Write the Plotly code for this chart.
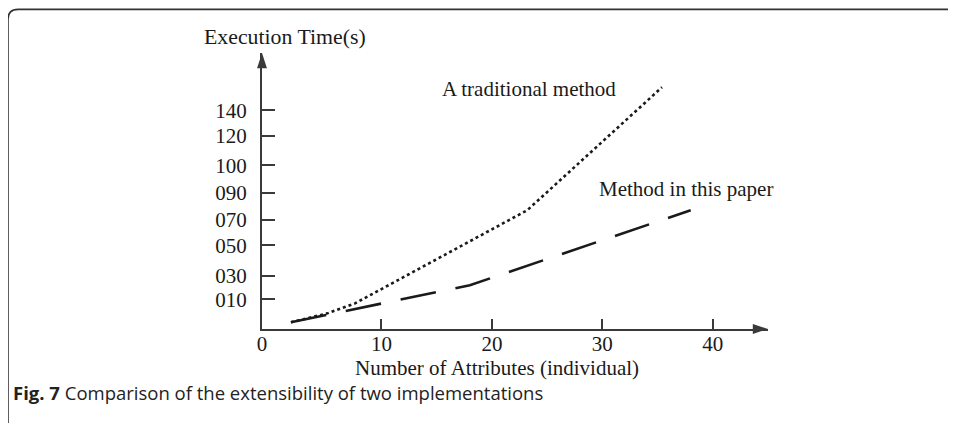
import plotly.graph_objects as go

# --- data ---------------------------------------------------------------
# x ticks (the "0" sits at the axis origin, slightly left of true zero)
X_ORIGIN = -0.82
X_TICKS = [X_ORIGIN, 10, 20, 30, 40]
X_TICKTEXT = ["0", "10", "20", "30", "40"]

# y ticks are unevenly spaced in the original drawing
Y_TICKS = [19.0, 34.0, 53.6, 69.9, 87.2, 104.8, 123.5, 140.0]
Y_TICKTEXT = ["010", "030", "050", "070", "090", "100", "120", "140"]

# A traditional method (dotted)
trad_x = [1.8, 5.1, 7.6, 23.2, 35.4]
trad_y = [4.3, 10.0, 16.4, 76.0, 154.7]

# Method in this paper (dashed)
ours_x = [1.8, 18.0, 38.0]
ours_y = [4.3, 28.0, 76.0]

X_END = 45.0
Y_END = 176.6

SERIF = "Liberation Serif, Times New Roman, serif"
INK = "#1a1a1a"
AXIS = "#3a3a3a"

fig = go.Figure()

fig.add_trace(go.Scatter(
    x=trad_x, y=trad_y, mode="lines",
    line=dict(color=INK, width=2.6, dash="3px,3px"),
    hoverinfo="skip", cliponaxis=False,
))
fig.add_trace(go.Scatter(
    x=ours_x, y=ours_y, mode="lines",
    line=dict(color=INK, width=2.6, dash="36px,20px"),
    hoverinfo="skip", cliponaxis=False,
))

# arrow heads at the end of both axes
fig.add_trace(go.Scatter(
    x=[X_END, X_ORIGIN], y=[0, Y_END], mode="markers",
    marker=dict(symbol="arrow", angle=[90, 0], size=16, color=AXIS,
                line=dict(width=0)),
    hoverinfo="skip", cliponaxis=False,
))

# the page body adds an 8px offset, so margins are trimmed by 8px
fig.update_layout(
    width=956, height=423,
    margin=dict(l=254, r=196.1, t=44.7, b=102.3),
    paper_bgcolor="white", plot_bgcolor="white",
    showlegend=False,
    font=dict(family=SERIF, size=21, color=INK),
)

fig.update_xaxes(
    range=[X_ORIGIN, X_END], tickvals=X_TICKS, ticktext=X_TICKTEXT,
    showgrid=False, zeroline=False,
    showline=True, linecolor=AXIS, linewidth=2,
    ticks="inside", ticklen=10, tickwidth=1.5, tickcolor=AXIS,
    ticklabelstandoff=-5,
    tickfont=dict(family=SERIF, size=21, color=INK),
)
fig.update_yaxes(
    range=[0, Y_END], tickvals=Y_TICKS, ticktext=Y_TICKTEXT,
    showgrid=False, zeroline=False,
    showline=True, linecolor=AXIS, linewidth=2,
    ticks="inside", ticklen=13, tickwidth=1.5, tickcolor=AXIS,
    ticklabelstandoff=9,
    tickfont=dict(family=SERIF, size=21, color=INK),
)

# series labels
fig.add_annotation(x=23.4, y=153.4, text="A traditional method", showarrow=False,
                   font=dict(family=SERIF, size=21, color=INK))
fig.add_annotation(x=37.6, y=89.4, text="Method in this paper", showarrow=False,
                   font=dict(family=SERIF, size=21, color=INK))

# axis titles
fig.add_annotation(xref="paper", yref="paper", x=0.0455, y=1.057,
                   xanchor="center", yanchor="middle",
                   text="Execution Time(s)", showarrow=False,
                   font=dict(family=SERIF, size=21.8, color=INK))
fig.add_annotation(xref="paper", yref="paper", x=0.4645, y=-0.1406,
                   xanchor="center", yanchor="middle",
                   text="Number of Attributes (individual)", showarrow=False,
                   font=dict(family=SERIF, size=21, color=INK))

# caption
fig.add_annotation(xref="paper", yref="paper", x=-0.496, y=-0.2312,
                   xanchor="left", yanchor="middle", showarrow=False,
                   text="<b>Fig. 7</b> Comparison of the extensibility of two implementations",
                   font=dict(family="Open Sans, sans-serif", size=18.5, color="#222222"))

# rounded frame of the figure panel (top-left corner, runs off the page)
fig.add_shape(
    type="path", xref="paper", yref="paper",
    path="M -0.502,-0.40 L -0.502,1.122 Q -0.502,1.158 -0.482,1.158 L 1.40,1.158",
    line=dict(color="#333333", width=1.6),
)

fig.write_html("out.html")
